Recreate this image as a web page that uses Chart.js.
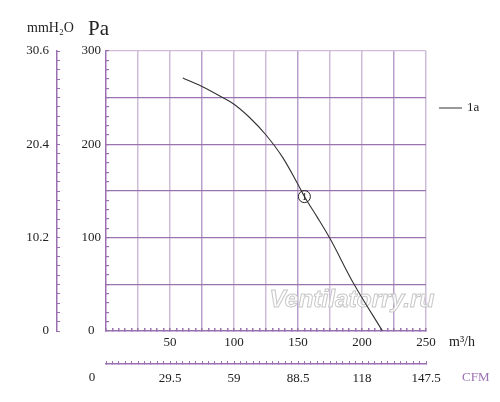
<!DOCTYPE html>
<html>
<head>
<meta charset="utf-8">
<script src="https://cdn.jsdelivr.net/npm/chart.js@4.4.0/dist/chart.umd.min.js"></script>
<style>
  html, body { margin: 0; padding: 0; background: #fff; }
</style>
</head>
<body>
<canvas id="grafico" width="500" height="402"></canvas>
<script>
// Pontos da curva (m3/h, Pa)
var vazao = [60, 75, 90, 100, 112, 125, 138, 150, 155, 165, 175, 193, 216];
var pressao = [271, 262, 251, 243, 229, 210, 186, 157, 144, 122, 99, 52, 0];
var serieNome = '1a';
var pontoMarcado = 8;     // ponto com o circulo "1"
var marcaTexto = '1';

// Rotulos dos eixos
var paTicks = [0, 100, 200, 300];
var mmH2OLabels = ['0', '10.2', '20.4', '30.6'];
var vazaoTicks = [50, 100, 150, 200, 250];
var cfmLabels = ['29.5', '59', '88.5', '118', '147.5'];

var roxo = '#9a70b1';
var roxoMedio = '#9a73ae';
var roxoClaro = '#cfbcdb';
var fonte = '"Liberation Serif", "DejaVu Serif", serif';
var transparente = 'rgba(0,0,0,0)';

// Textos extras: unidades, legenda, marca d'agua
var textos = {
    id: 'textos',
    beforeDatasetsDraw: function (chart) {
        var ctx = chart.ctx;
        ctx.save();
        ctx.font = 'italic bold 24px "Liberation Sans", Arial, sans-serif';
        var texto = 'Ventilatorry.ru';
        var w = ctx.measureText(texto).width;
        ctx.translate(352, 300);
        ctx.scale(165 / w, 1);
        ctx.textAlign = 'center';
        ctx.textBaseline = 'middle';
        ctx.fillStyle = 'rgba(255,255,255,0.75)';
        ctx.fillText(texto, 0, 0);
        ctx.strokeStyle = '#c8c8c8';
        ctx.lineWidth = 1;
        ctx.strokeText(texto, 0, 0);
        ctx.restore();
    },
    afterDraw: function (chart) {
        var ctx = chart.ctx;
        var area = chart.chartArea;
        var sx = chart.scales.x;
        var sx2 = chart.scales.x2;
        ctx.save();
        ctx.fillStyle = '#222';
        ctx.textBaseline = 'middle';

        ctx.font = '14px ' + fonte;
        ctx.fillText('mmH\u2082O', 27, 28);
        ctx.font = '21px ' + fonte;
        ctx.fillText('Pa', 88, 29);

        ctx.font = '14px ' + fonte;
        ctx.fillText('m\u00b3/h', area.right + 23, sx.top + 11);

        ctx.font = '13px ' + fonte;
        ctx.textAlign = 'center';
        ctx.fillText('0', 92, sx2.top + 14);
        ctx.textAlign = 'left';
        ctx.fillStyle = roxo;
        ctx.fillText('CFM', area.right + 36, sx2.top + 14);

        // legenda
        var ds = chart.data.datasets[0];
        ctx.strokeStyle = ds.borderColor;
        ctx.lineWidth = 1;
        ctx.beginPath();
        ctx.moveTo(area.right + 13, 108);
        ctx.lineTo(area.right + 36, 108);
        ctx.stroke();
        ctx.fillStyle = '#222';
        ctx.font = '13px ' + fonte;
        ctx.fillText(ds.label, area.right + 41, 108);

        // numero dentro do circulo
        var p = chart.getDatasetMeta(0).data[pontoMarcado];
        ctx.font = '11px ' + fonte;
        ctx.textAlign = 'center';
        ctx.fillText(marcaTexto, p.x, p.y + 1);
        ctx.restore();
    }
};

var dados = vazao.map(function (v, i) { return { x: v, y: pressao[i] }; });

new Chart(document.getElementById('grafico').getContext('2d'), {
    type: 'line',
    data: {
        datasets: [{
            label: serieNome,
            data: dados,
            borderColor: '#333',
            borderWidth: 1.1,
            cubicInterpolationMode: 'monotone',
            fill: false,
            pointRadius: vazao.map(function (v, i) { return i == pontoMarcado ? 6 : 0; }),
            pointBackgroundColor: transparente,
            pointBorderColor: '#222',
            pointBorderWidth: 1,
            pointHoverRadius: 0
        }]
    },
    options: {
        responsive: false,
        animation: false,
        devicePixelRatio: 1,
        layout: { padding: { top: 51, right: 74, bottom: 0, left: 0 } },
        plugins: {
            legend: { display: false },
            tooltip: { enabled: false }
        },
        scales: {
            x: {
                type: 'linear', position: 'bottom', weight: 0,
                min: 0, max: 250,
                border: { color: roxo, width: 1.5 },
                grid: {
                    color: function (c) {
                        var v = c.tick.value;
                        if (v == 0 || v % 25 != 0) return transparente;
                        return v % 75 == 0 ? '#bba0cb' : roxoClaro;
                    },
                    lineWidth: 1.5,
                    tickColor: roxo,
                    tickLength: -3
                },
                ticks: {
                    stepSize: 5, autoSkip: false, maxRotation: 0, minRotation: 0,
                    padding: 7, color: '#222', font: { family: fonte, size: 13 },
                    callback: function (v) { return vazaoTicks.includes(v) ? String(v) : ''; }
                },
                afterFit: function (s) { s.height = 33; }
            },
            x2: {
                type: 'linear', position: 'bottom', weight: 1,
                min: 0, max: 250,
                border: { color: roxo, width: 1.5 },
                grid: { drawOnChartArea: false, tickColor: roxo, tickLength: -3 },
                ticks: {
                    stepSize: 5, autoSkip: false, maxRotation: 0, minRotation: 0,
                    padding: 10, color: '#222', font: { family: fonte, size: 13 },
                    callback: function (v) {
                        var i = vazaoTicks.indexOf(v);
                        return i >= 0 ? cfmLabels[i] : '';
                    }
                },
                afterFit: function (s) { s.height = 38; }
            },
            y: {
                type: 'linear', position: 'left', weight: 0,
                min: 0, max: 300,
                border: { color: roxo, width: 1.5 },
                grid: {
                    color: function (c) {
                        var v = c.tick.value;
                        if (v == 0 || v % 50 != 0) return transparente;
                        return v == 300 ? roxoClaro : roxoMedio;
                    },
                    lineWidth: 1.2,
                    tickColor: roxo,
                    tickLength: -3
                },
                ticks: {
                    stepSize: 10, autoSkip: false, crossAlign: 'center',
                    padding: 8, color: '#222', font: { family: fonte, size: 13 },
                    callback: function (v) { return paTicks.includes(v) ? String(v) : ''; }
                },
                afterFit: function (s) { s.width = 49; }
            },
            y2: {
                type: 'linear', position: 'left', weight: 1,
                min: 0, max: 300,
                border: { color: roxo, width: 1.5 },
                grid: { drawOnChartArea: false, tickColor: roxo, tickLength: -3 },
                ticks: {
                    stepSize: 10, autoSkip: false,
                    padding: 11, color: '#222', font: { family: fonte, size: 13 },
                    callback: function (v) {
                        var i = paTicks.indexOf(v);
                        return i >= 0 ? mmH2OLabels[i] : '';
                    }
                },
                afterFit: function (s) { s.width = 57; }
            }
        }
    },
    plugins: [textos]
});
</script>
</body>
</html>
